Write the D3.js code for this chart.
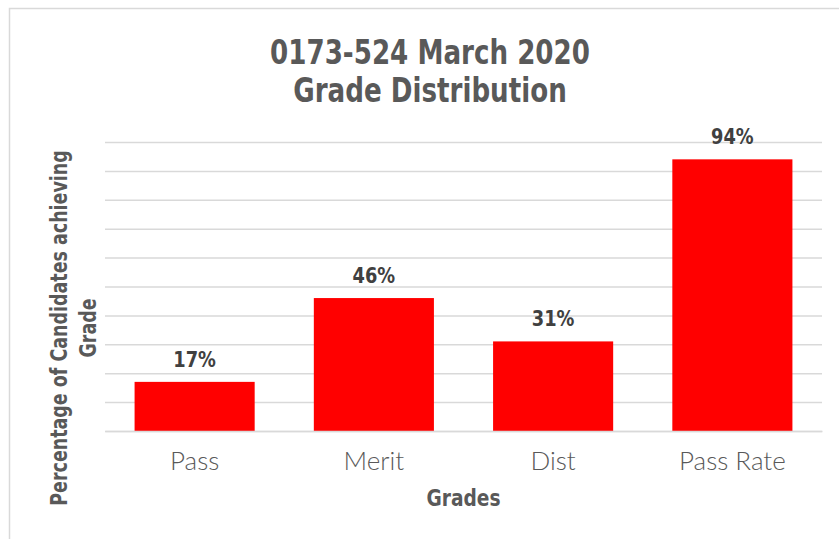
<!DOCTYPE html>
<html>
<head>
<meta charset="utf-8">
<script src="https://cdn.jsdelivr.net/npm/d3@7"></script>
<style>
  body { margin: 0; background: #fff; }
  svg { display: block; }
</style>
</head>
<body>
<svg id="chart" width="839" height="539"></svg>
<script>
// Chart data
const categories = ['Pass', 'Merit', 'Dist', 'Pass Rate'];
const values = [17, 46, 31, 94];
const valueLabels = ['17%', '46%', '31%', '94%'];
const yTicks = [0, 10, 20, 30, 40, 50, 60, 70, 80, 90, 100];
const titleLines = ['0173-524 March 2020', 'Grade Distribution'];
const yTitleLines = ['Percentage of Candidates achieving', 'Grade'];
const xTitle = 'Grades';

const svg = d3.select('#chart');
const margin = { top: 142, right: 17, bottom: 108, left: 105 };
const width = 839 - margin.left - margin.right;
const height = 539 - margin.top - margin.bottom;

const grey = '#595959';
const condensed = "'DejaVu Sans Condensed', 'DejaVu Sans', sans-serif";

// outer chart frame
svg.append('rect')
    .attr('x', 9.5).attr('y', 8.5)
    .attr('width', 900).attr('height', 600)
    .attr('fill', 'none')
    .attr('stroke', '#d9d9d9')
    .attr('stroke-width', 1.5);

const x = d3.scaleBand()
    .domain(categories)
    .range([0, width])
    .paddingInner(0.33)
    .paddingOuter(0.165);

const y = d3.scaleLinear()
    .domain([0, 100])
    .range([height, 0]);

const g = svg.append('g')
    .attr('transform', `translate(${margin.left},${margin.top})`);

// gridlines
g.append('g')
    .call(d3.axisLeft(y).tickValues(yTicks).tickSize(-width).tickFormat(''))
    .call(s => s.select('.domain').remove())
    .call(s => s.selectAll('.tick line')
        .attr('stroke', '#d9d9d9')
        .attr('stroke-width', 1.5));

// bars
g.selectAll('.bar')
    .data(values)
    .enter().append('rect')
    .attr('class', 'bar')
    .attr('x', (d, i) => x(categories[i]))
    .attr('y', d => y(d))
    .attr('width', x.bandwidth())
    .attr('height', d => height - y(d))
    .attr('fill', '#ff0000');

// value labels
g.selectAll('.val')
    .data(values)
    .enter().append('text')
    .attr('class', 'val')
    .attr('transform', (d, i) => `translate(${x(categories[i]) + x.bandwidth() / 2},${y(d) - 15}) scale(0.9,1)`)
    .attr('text-anchor', 'middle')
    .attr('font-family', condensed)
    .attr('font-weight', 'bold')
    .attr('font-size', 22)
    .attr('fill', '#404040')
    .text((d, i) => valueLabels[i]);

// x axis
g.append('g')
    .attr('transform', `translate(0,${height})`)
    .call(d3.axisBottom(x).tickSize(0).tickPadding(21))
    .call(s => s.select('.domain').attr('stroke', '#d9d9d9').attr('stroke-width', 1.5))
    .call(s => s.selectAll('.tick text')
        .attr('font-family', "Lato, 'DejaVu Sans', sans-serif")
        .attr('font-weight', 300)
        .attr('font-size', 26)
        .attr('fill', grey));

// chart title
svg.append('g')
    .attr('transform', 'translate(430,0) scale(0.855,1)')
    .append('text')
    .attr('text-anchor', 'middle')
    .attr('font-family', condensed)
    .attr('font-weight', 'bold')
    .attr('font-size', 34)
    .attr('fill', grey)
    .selectAll('tspan')
    .data(titleLines)
    .enter().append('tspan')
    .attr('x', 0)
    .attr('y', (d, i) => 64 + i * 38)
    .text(d => d);

// x axis title
svg.append('text')
    .attr('transform', `translate(${margin.left + width / 2},506) scale(0.9,1)`)
    .attr('text-anchor', 'middle')
    .attr('font-family', condensed)
    .attr('font-weight', 'bold')
    .attr('font-size', 23)
    .attr('fill', grey)
    .text(xTitle);

// y axis title
const yt = svg.append('text')
    .attr('transform', 'translate(0,328) rotate(-90) scale(0.845,1)')
    .attr('text-anchor', 'middle')
    .attr('font-family', condensed)
    .attr('font-weight', 'bold')
    .attr('font-size', 23)
    .attr('fill', grey);
yt.selectAll('tspan')
    .data(yTitleLines)
    .enter().append('tspan')
    .attr('x', 0)
    .attr('y', (d, i) => 67 + i * 29)
    .text(d => d);
</script>
</body>
</html>
